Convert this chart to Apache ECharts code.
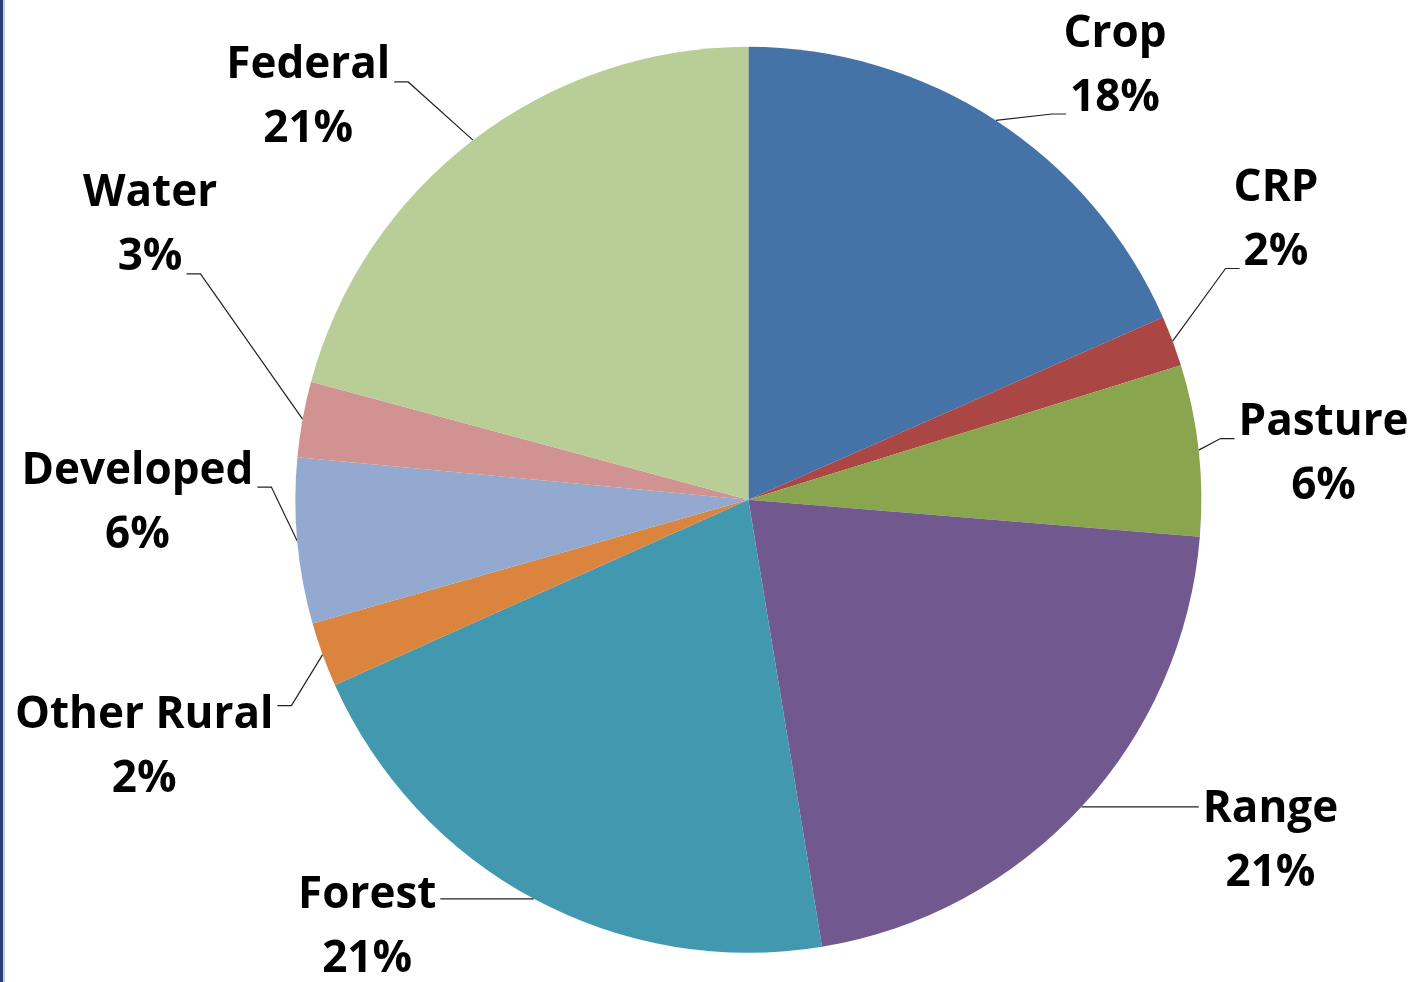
<!DOCTYPE html>
<html>
<head>
<meta charset="utf-8">
<script src="https://cdn.jsdelivr.net/npm/echarts@6/dist/echarts.min.js"></script>
<style>
html,body{margin:0;padding:0;background:#fff;}
#chart{width:1412px;height:982px;}
#edge{position:absolute;left:0;top:0;width:3px;height:982px;background:#2c3e74;border-right:2px solid #c9cdd6;}
</style>
</head>
<body>
<div id="chart"></div>
<div id="edge"></div>
<script>
const categories = ['Crop','CRP','Pasture','Range','Forest','Other Rural','Developed','Water','Federal'];
const values = [18.4, 1.8, 6.1, 21.1, 20.9, 2.3, 5.9, 2.7, 20.8];
const colors = ['#4572A7','#AA4643','#89A54E','#71588F','#4198AF','#DB843D','#93A9CF','#D19392','#B9CD96'];
// label placement (styling): [angle clockwise from top in degrees, distance from pie centre in px]
const labelPlace = [[40.2,568],[62.1,597],[85.5,577],[123.2,624],[221.7,573],[247.7,653],[269.7,611],[294.6,658],[312.4,596]];

const FONT = 'bold 44px "Open Sans"';
const LINE_H = 64;
const mc = document.createElement('canvas').getContext('2d');
function textW(s){ mc.font = FONT; return mc.measureText(s).width; }

const chart = echarts.init(document.getElementById('chart'));

function nearestOnRect(px, py, x0, y0, x1, y1){
  return [Math.min(Math.max(px, x0), x1), Math.min(Math.max(py, y0), y1)];
}

chart.setOption({
  animation: false,
  backgroundColor: '#fff',
  series: [{
    type: 'pie',
    center: ['53%', '50.9%'],
    radius: 453,
    startAngle: 90,
    clockwise: true,
    percentPrecision: 0,
    itemStyle: { borderWidth: 0 },
    label: {
      show: true,
      position: 'outside',
      overflow: 'none',
      edgeDistance: 0,
      formatter: '{n|{b}}\n{n|{d}%}',
      rich: {
        n: {
          fontFamily: 'Open Sans',
          fontWeight: 'bold',
          fontSize: 44,
          lineHeight: LINE_H,
          color: '#000',
          align: 'center'
        }
      }
    },
    labelLine: {
      show: true,
      length: 20,
      length2: 15,
      lineStyle: { color: '#222', width: 1.2 }
    },
    labelLayout: function (params) {
      const i = params.dataIndex;
      const data = chart.getModel().getSeriesByIndex(0).getData();
      const lay = data.getItemLayout(i);
      const cx = lay.cx, cy = lay.cy, r = lay.r;
      const mid = (lay.startAngle + lay.endAngle) / 2;
      const ex = cx + r * Math.cos(mid), ey = cy + r * Math.sin(mid);
      const a = labelPlace[i][0] * Math.PI / 180, d = labelPlace[i][1];
      const lx = cx + d * Math.sin(a), ly = cy - d * Math.cos(a);
      const total = values.reduce((s, v) => s + v, 0);
      const lines = [categories[i], Math.round(values[i] / total * 100) + '%'];
      let best = null, bestD = Infinity;
      lines.forEach((t, k) => {
        const w = textW(t) + 8;
        const yc = ly + (k === 0 ? -LINE_H / 2 : LINE_H / 2);
        const p = nearestOnRect(ex, ey, lx - w / 2, yc - 10, lx + w / 2, yc + 16);
        const dd = Math.hypot(p[0] - ex, p[1] - ey);
        if (dd < bestD) { bestD = dd; best = p; }
      });
      const sgn = best[0] >= ex ? 1 : -1;
      const bx = best[0] - sgn * 14;
      return {
        x: lx,
        y: ly,
        align: 'center',
        verticalAlign: 'middle',
        labelLinePoints: [[ex, ey], [bx, best[1]], [best[0], best[1]]]
      };
    },
    data: categories.map((c, i) => ({ name: c, value: values[i], itemStyle: { color: colors[i] } }))
  }]
});
</script>
</body>
</html>
